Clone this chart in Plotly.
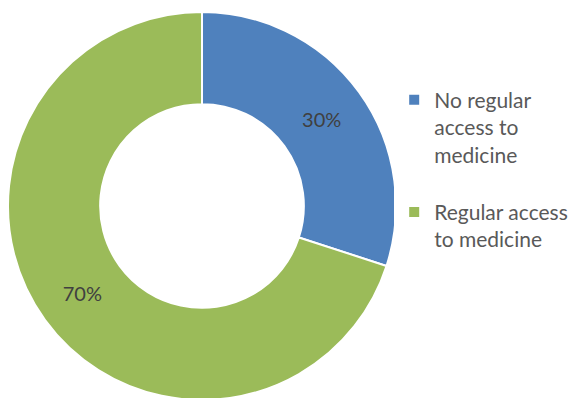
import plotly.graph_objects as go

labels = ["No regular<br>access to<br>medicine<br><span style='font-size:30px'> </span>",
          "Regular access<br>to medicine"]
values = [30, 70]
colors = ["#4F81BD", "#9BBB59"]

# the page body has an 8px margin, so positions are shifted by -8px
fig = go.Figure(go.Pie(
    labels=labels, values=values, hole=0.525, sort=False,
    direction="clockwise", rotation=0,
    marker=dict(colors=colors, line=dict(color="white", width=2)),
    textinfo="percent", textposition="inside", insidetextorientation="horizontal",
    textfont=dict(color="#404040", size=20),
    domain=dict(x=[0, 388/579], y=[6/398, 394/398]),
))
fig.update_layout(
    width=579, height=398, margin=dict(l=0, r=0, t=0, b=0),
    paper_bgcolor="white", plot_bgcolor="white",
    font=dict(family="Lato, sans-serif", color="#595959", size=21),
    legend=dict(x=0.667, y=0.82, xanchor="left", yanchor="top", valign="top",
                font=dict(size=21, color="#595959"), itemwidth=30),
)
fig.write_html("out.html")
